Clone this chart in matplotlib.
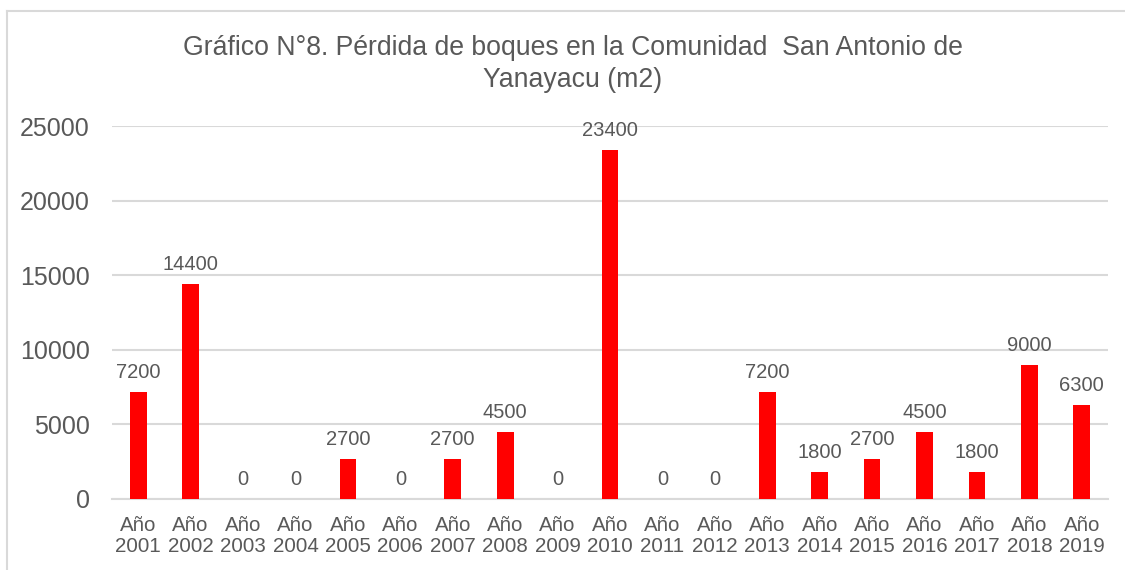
import matplotlib
matplotlib.use("Agg")
import matplotlib.pyplot as plt
from matplotlib.lines import Line2D

categories = ["Año\n2001", "Año\n2002", "Año\n2003", "Año\n2004", "Año\n2005", "Año\n2006",
              "Año\n2007", "Año\n2008", "Año\n2009", "Año\n2010", "Año\n2011", "Año\n2012",
              "Año\n2013", "Año\n2014", "Año\n2015", "Año\n2016", "Año\n2017", "Año\n2018",
              "Año\n2019"]
values = [7200, 14400, 0, 0, 2700, 0, 2700, 4500, 0, 23400, 0, 0, 7200, 1800, 2700, 4500,
          1800, 9000, 6300]
yticks = [0, 5000, 10000, 15000, 20000, 25000]
title = "Gráfico N°8. Pérdida de boques en la Comunidad  San Antonio de\nYanayacu (m2)"

plt.rcParams['font.family'] = ['Liberation Sans', 'DejaVu Sans']
W, H = 1125, 570
fig = plt.figure(figsize=(W / 100, H / 100), dpi=100)
txt = "#595959"
grid = "#d9d9d9"

# chart frame (partly cropped)
fig.add_artist(Line2D([7 / W, 7 / W], [0, 1 - 11 / H], transform=fig.transFigure, color=grid, lw=1.5))
fig.add_artist(Line2D([7 / W, 1], [1 - 11 / H, 1 - 11 / H], transform=fig.transFigure, color=grid, lw=1.5))

ax = fig.add_axes([112 / W, (H - 499) / H, 996 / W, (499 - 126) / H])
x = list(range(len(categories)))
bars = ax.bar(x, values, width=0.32, color="#ff0000", zorder=3)
ax.set_xlim(-0.5, len(categories) - 0.5)
ax.set_ylim(0, 25000)
ax.set_yticks(yticks)
ax.set_yticklabels([str(v) for v in yticks], fontsize=18, color=txt)
ax.set_xticks(x)
ax.set_xticklabels(categories, fontsize=14.8, color=txt, linespacing=1.18)
ax.tick_params(axis='both', length=0)
ax.tick_params(axis='y', pad=16)
ax.tick_params(axis='x', pad=12)
ax.grid(axis='y', color=grid, lw=1.5, zorder=0)
for s in ["top", "right", "left"]:
    ax.spines[s].set_visible(False)
ax.spines["bottom"].set_color(grid)
ax.spines["bottom"].set_linewidth(1.5)

for xi, v in zip(x, values):
    ax.annotate(str(v), (xi, v), xytext=(0, 7), textcoords="offset points",
                ha="center", va="bottom", fontsize=14.5, color=txt)

fig.text(573 / W, 1 - 64 / H, title, ha="center", va="center", fontsize=19.2,
         color=txt, linespacing=1.33)

fig.savefig("out.png", dpi=100)
